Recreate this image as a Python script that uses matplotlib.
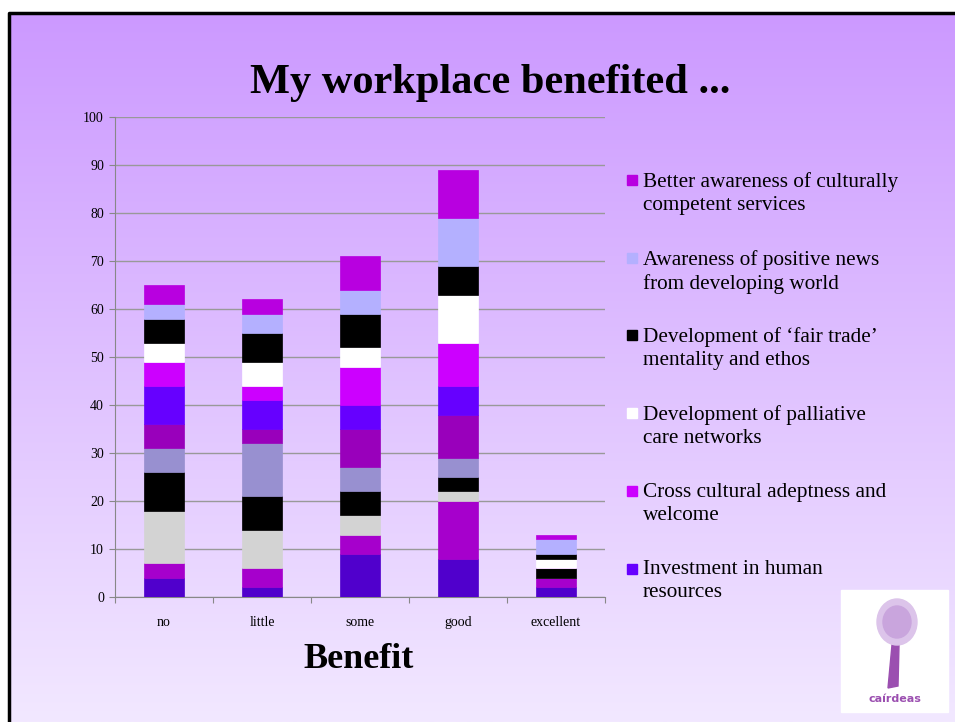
import numpy as np
import matplotlib.pyplot as plt
from matplotlib.patches import Rectangle, Ellipse, Polygon

# Categories along the x axis
categories = ["no", "little", "some", "good", "excellent"]

# Stacked series, bottom to top (only the top six appear in the legend)
s01 = [4, 2, 9, 8, 2]
s02 = [3, 4, 4, 12, 2]
s03 = [11, 8, 4, 2, 0]
s04 = [8, 7, 5, 3, 2]
s05 = [5, 11, 5, 4, 0]
s06 = [5, 3, 8, 9, 0]
investment = [8, 6, 5, 6, 0]
cross_cultural = [5, 3, 8, 9, 0]
palliative = [4, 5, 4, 10, 2]
fair_trade = [5, 6, 7, 6, 1]
positive_news = [3, 4, 5, 10, 3]
better_awareness = [4, 3, 7, 10, 1]

series = [s01, s02, s03, s04, s05, s06, investment, cross_cultural,
          palliative, fair_trade, positive_news, better_awareness]
colors = ["#5000CC", "#A600CC", "#D3D3D3", "#000000", "#9890D0", "#9900BB",
          "#6600FF", "#CC00FF", "#FFFFFF", "#000000", "#B4B0FF", "#B800E0"]
legend_labels = {
    6: "Investment in human\nresources",
    7: "Cross cultural adeptness and\nwelcome",
    8: "Development of palliative\ncare networks",
    9: "Development of \u2018fair trade\u2019\nmentality and ethos",
    10: "Awareness of positive news\nfrom developing world",
    11: "Better awareness of culturally\ncompetent services",
}

plt.rcParams["font.family"] = ["Liberation Serif", "DejaVu Serif"]

fig = plt.figure(figsize=(9.55, 7.22), dpi=100)

# slide background with a vertical gradient and a black frame
bg = fig.add_axes([0, 0, 1, 1])
bg.set_xlim(0, 955)
bg.set_ylim(722, 0)
bg.axis("off")
top_c = np.array([204, 153, 255]) / 255
bot_c = np.array([242, 232, 255]) / 255
t = np.linspace(0, 1, 256)[:, None]
grad = (top_c * (1 - t) + bot_c * t)[:, None, :]
bg.add_patch(Rectangle((0, 0), 955, 722, color="white", zorder=0))
bg.imshow(grad, extent=[9, 955, 722, 13], aspect="auto", zorder=1)
bg.plot([9, 9, 955], [722, 13, 13], color="black", lw=2.5, zorder=2)

ax = fig.add_axes([115 / 955, 1 - 597 / 722, 490 / 955, 480 / 722])
ax.set_facecolor("none")
x = np.arange(len(categories))
bottom = np.zeros(len(categories))
for i, (vals, col) in enumerate(zip(series, colors)):
    ax.bar(x, vals, width=0.4, bottom=bottom, color=col,
           edgecolor=col, linewidth=0.5, zorder=3)
    bottom += np.array(vals)

ax.set_xlim(-0.5, 4.5)
ax.set_ylim(0, 100)
ax.set_yticks(range(0, 101, 10))
ax.set_xticks(np.arange(-0.5, 4.6, 1))
ax.set_xticklabels([])
ax.set_xticks(x, minor=True)
ax.set_xticklabels(categories, minor=True, fontsize=10)
ax.tick_params(axis="x", which="minor", length=0, pad=14)
ax.tick_params(axis="x", which="major", length=4, color="#888888")
ax.tick_params(axis="y", length=4, color="#888888", labelsize=10, pad=4)
ax.grid(axis="y", color="#999999", lw=1, zorder=0)
for side in ["top", "right"]:
    ax.spines[side].set_visible(False)
for side in ["left", "bottom"]:
    ax.spines[side].set_color("#888888")

fig.text(490 / 955, 1 - 83 / 722, "My workplace benefited ...",
         ha="center", va="center", fontsize=30.5, fontweight="bold")
fig.text(359 / 955, 1 - 659 / 722, "Benefit", ha="center", va="center",
         fontsize=26, fontweight="bold")

# legend, top series first, square aligned with the first text line
for k, idx in enumerate(sorted(legend_labels, reverse=True)):
    y0 = 180 + 77.7 * k
    bg.add_patch(Rectangle((627, y0 - 5), 10, 10, color=colors[idx],
                           zorder=3))
    bg.text(643, y0 - 8, legend_labels[idx], ha="left", va="top",
            fontsize=15.3, linespacing=1.28, zorder=3)

# small logo in the corner
bg.add_patch(Rectangle((841, 590), 107, 122, color="white", zorder=3))
bg.add_patch(Polygon([[888, 688], [898, 686], [899, 645], [904, 625],
                      [896, 625], [892, 645]], color="#9B4FB0", zorder=4))
bg.add_patch(Ellipse((897, 622), 40, 46, color="#DCC4EA", zorder=4))
bg.add_patch(Ellipse((897, 622), 28, 32, color="#C9A5DD", zorder=4))
bg.text(895, 699, "ca\u00edrdeas", ha="center", va="center",
        fontsize=8, color="#9B4FB0", fontweight="bold", zorder=5,
        family=["DejaVu Sans"])

fig.savefig("out.png", dpi=100)
